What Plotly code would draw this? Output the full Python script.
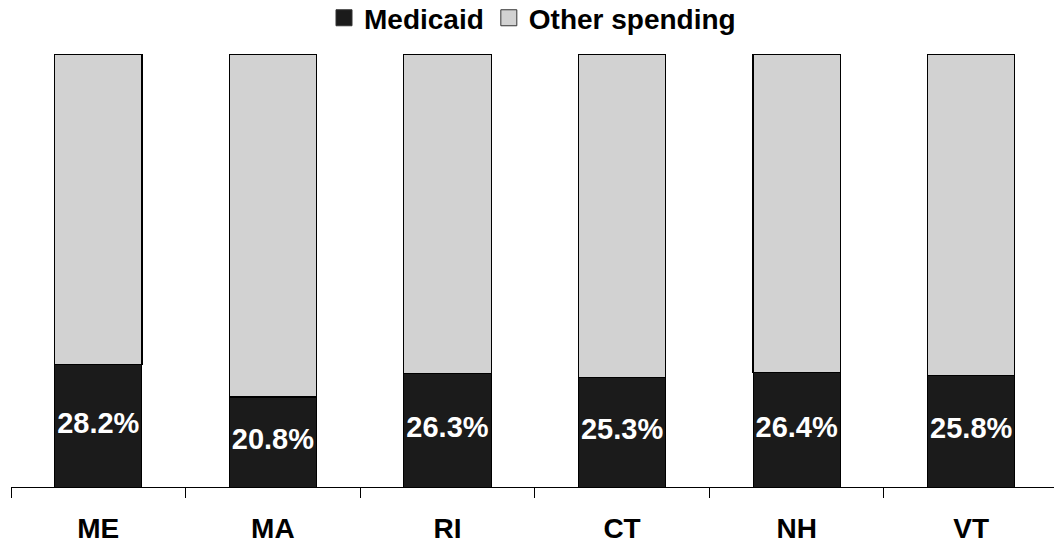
import plotly.graph_objects as go

states = ["ME", "MA", "RI", "CT", "NH", "VT"]
medicaid = [28.2, 20.8, 26.3, 25.3, 26.4, 25.8]
other = [round(100 - v, 1) for v in medicaid]
labels = [f"{v:.1f}%" for v in medicaid]
series_names = ["Medicaid", "Other spending"]

FONT = "Liberation Sans, Arial, sans-serif"
DARK = "#1b1b1b"
LIGHT = "#d2d2d2"

fig = go.Figure()
fig.add_trace(go.Bar(
    x=states, y=medicaid, name=series_names[0], showlegend=False,
    marker=dict(color=DARK, line=dict(color="#000000", width=1)),
    hoverinfo="skip",
))
fig.add_trace(go.Bar(
    x=states, y=other, name=series_names[1], showlegend=False,
    marker=dict(color=LIGHT, line=dict(color="#000000", width=1.2)),
    hoverinfo="skip",
))
fig.add_trace(go.Scatter(
    x=states, y=[v / 2 for v in medicaid], mode="text", text=labels,
    textfont=dict(family=FONT, size=29, color="white", weight="bold"),
    showlegend=False, hoverinfo="skip",
))
# legend entries (square swatches)
for name, col in zip(series_names, [DARK, LIGHT]):
    fig.add_trace(go.Scatter(
        x=[None], y=[None], mode="markers", name=name,
        marker=dict(symbol="square", size=20, color=col,
                    line=dict(color="#333333", width=1)),
        hoverinfo="skip",
    ))

fig.update_layout(
    width=1054, height=548,
    margin=dict(l=11, r=0, t=54, b=61, autoexpand=False),
    paper_bgcolor="white", plot_bgcolor="white",
    barmode="stack", bargap=0.5,
    font=dict(family=FONT, color="black"),
    legend=dict(
        orientation="h", x=0.5, xanchor="center", y=1.083, yanchor="middle",
        font=dict(family=FONT, size=28, weight="bold"),
        traceorder="normal", itemwidth=30, bgcolor="rgba(0,0,0,0)",
        itemsizing="trace",
    ),
    xaxis=dict(
        type="category", range=[-0.5, 5.474],
        showline=True, linecolor="black", linewidth=1,
        ticks="outside", tickson="boundaries", ticklen=10, tickcolor="black", tickwidth=1,
        tickfont=dict(family=FONT, size=28, weight="bold"),
        ticklabelstandoff=16, showgrid=False, zeroline=False,
    ),
    yaxis=dict(range=[0, 100], visible=False, showgrid=False, zeroline=False),
)

fig.write_html("out.html")
